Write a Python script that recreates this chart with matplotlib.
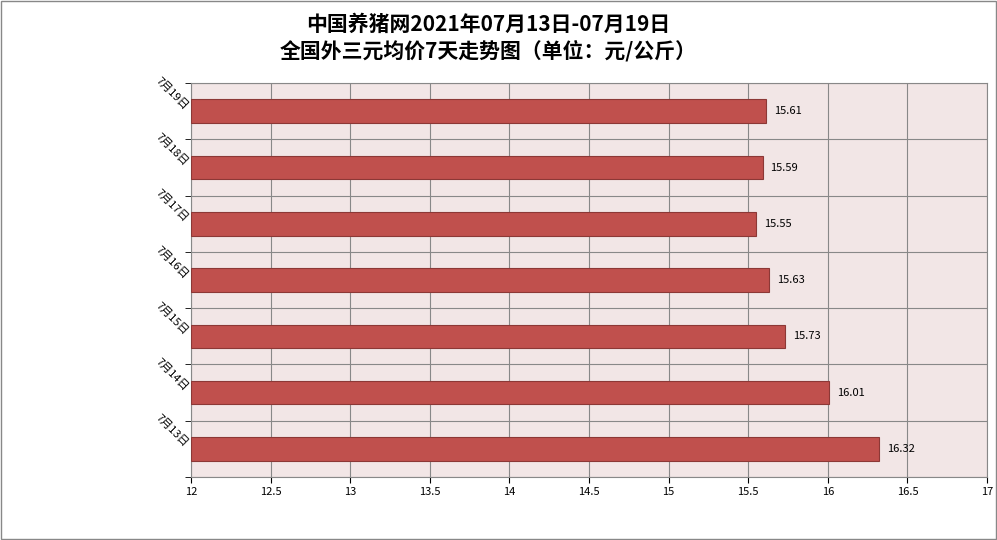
import matplotlib
matplotlib.use('Agg')
import matplotlib.pyplot as plt
from matplotlib.patches import Rectangle

plt.rcParams['font.family'] = ['Noto Sans CJK SC', 'DejaVu Sans']

dates = ['7月13日', '7月14日', '7月15日', '7月16日', '7月17日', '7月18日', '7月19日']
values = [16.32, 16.01, 15.73, 15.63, 15.55, 15.59, 15.61]
xticks = [12, 12.5, 13, 13.5, 14, 14.5, 15, 15.5, 16, 16.5, 17]

fig = plt.figure(figsize=(9.97, 5.4), dpi=100)
fig.patches.append(Rectangle((0.001, 0.001), 0.998, 0.997, transform=fig.transFigure,
                             fill=False, edgecolor='#888888', linewidth=1))
ax = fig.add_axes([0.1916, 0.1167, 0.7984, 0.7293])
ax.set_facecolor('#F2E6E6')
y = list(range(len(dates)))
ax.barh(y, [v - 12 for v in values], left=12, height=0.42, color='#C0504D',
        edgecolor='#8C3836', linewidth=0.8, zorder=3)
for yi, v in zip(y, values):
    ax.text(v + 0.05, yi, f'{v:.2f}', va='center', ha='left', fontsize=8, zorder=4)
ax.set_xlim(12, 17)
ax.set_ylim(-0.5, len(dates) - 0.5)
ax.set_xticks(xticks)
ax.set_xticklabels([f'{t:g}' for t in xticks], fontsize=8)
ax.set_yticks(y)
ax.set_yticklabels(dates, rotation=-45, fontsize=8, ha='right', va='bottom',
                   rotation_mode='anchor')
ax.set_yticks([i - 0.5 for i in range(len(dates) + 1)], minor=True)
ax.tick_params(axis='y', which='major', length=0, pad=6)
ax.tick_params(axis='y', which='minor', length=4)
ax.tick_params(axis='x', length=4)
ax.grid(True, which='minor', axis='y', color='#888888', linewidth=0.8, zorder=0)
ax.grid(True, which='major', axis='x', color='#888888', linewidth=0.8, zorder=0)
for s in ax.spines.values():
    s.set_color('#888888')
fig.text(0.49, 0.975, '中国养猪网2021年07月13日-07月19日\n全国外三元均价7天走势图（单位：元/公斤）',
         ha='center', va='top', fontsize=15, fontweight='bold', linespacing=1.3)
fig.savefig('out.png', dpi=100)
